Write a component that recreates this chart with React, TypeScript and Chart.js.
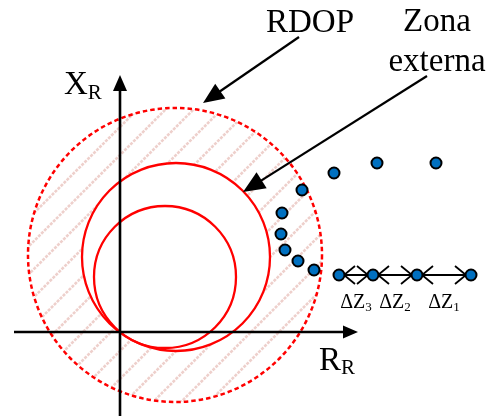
import React, { useEffect, useRef } from "react";
import { Chart, registerables } from "chart.js";

Chart.register(...registerables);

// Impedance trajectory (R, X) in diagram units, origin at axes crossing
const trajectoryR = [316, 257, 214, 182, 162, 161, 165, 178, 194];
const trajectoryX = [169, 169, 159, 142, 119, 98, 82, 71, 62];

// Steps on the constant-X line
const stepR = [219, 253, 297, 351];
const stepX = [57, 57, 57, 57];
const stepLabelSubs = ["3", "2", "1"];

// Circles: RDOP (dashed), outer zone, inner zone (center R, center X, radius)
const rdopCircle = [55, 77, 147];
const outerZoneCircle = [56, 75, 94];
const innerZoneCircle = [45, 55, 71];

// Axes extents
const rAxisRange = [-106, 238];
const xAxisRange = [-84, 257];

// Annotation arrows [fromR, fromX, toR, toX]
const rdopArrow = [179, 295, 83, 229];
const zoneArrow = [307, 256, 123, 140];

// Texts
const rdopText = "RDOP";
const zoneText = ["Zona", "externa"];
const xAxisText = ["X", "R"];
const rAxisText = ["R", "R"];
const deltaText = "ΔZ";

const RED = "#FF0000";
const SERIF = '"Liberation Serif", "Times New Roman", serif';

const diagramPlugin = {
  id: "diagram",
  beforeDatasetsDraw(chart: any) {
    const { ctx, scales } = chart;
    const xs = scales.x;
    const ys = scales.y;
    const px = (v: number) => xs.getPixelForValue(v);
    const py = (v: number) => ys.getPixelForValue(v);
    const pr = (r: number) => Math.abs(xs.getPixelForValue(r) - xs.getPixelForValue(0));

    ctx.save();
    // Hatched annulus between RDOP and outer zone circle
    ctx.beginPath();
    ctx.arc(px(rdopCircle[0]), py(rdopCircle[1]), pr(rdopCircle[2]), 0, Math.PI * 2);
    ctx.moveTo(px(outerZoneCircle[0]) + pr(outerZoneCircle[2]), py(outerZoneCircle[1]));
    ctx.arc(px(outerZoneCircle[0]), py(outerZoneCircle[1]), pr(outerZoneCircle[2]), 0, Math.PI * 2);
    ctx.clip("evenodd");
    ctx.strokeStyle = "rgb(238,208,204)";
    ctx.lineWidth = 2.6;
    ctx.setLineDash([3, 1.2]);
    const W = chart.width;
    const H = chart.height;
    for (let c = 23 - 28 * 2; c < W + H + 56; c += 28) {
      ctx.beginPath();
      ctx.moveTo(c, 0);
      ctx.lineTo(c - H, H);
      ctx.stroke();
    }
    ctx.restore();

    // Circles
    ctx.save();
    ctx.strokeStyle = RED;
    ctx.lineWidth = 2.5;
    ctx.setLineDash([4.5, 3]);
    ctx.beginPath();
    ctx.arc(px(rdopCircle[0]), py(rdopCircle[1]), pr(rdopCircle[2]), 0, Math.PI * 2);
    ctx.stroke();
    ctx.setLineDash([]);
    ctx.lineWidth = 2.3;
    for (const c of [outerZoneCircle, innerZoneCircle]) {
      ctx.beginPath();
      ctx.arc(px(c[0]), py(c[1]), pr(c[2]), 0, Math.PI * 2);
      ctx.stroke();
    }
    ctx.restore();

    // Axes with arrows
    const filledArrow = (x1: number, y1: number, x2: number, y2: number, len: number, hw: number, lw: number) => {
      const a = Math.atan2(y2 - y1, x2 - x1);
      const bx = x2 - len * Math.cos(a);
      const by = y2 - len * Math.sin(a);
      ctx.beginPath();
      ctx.moveTo(x1, y1);
      ctx.lineTo(bx + Math.cos(a) * 2, by + Math.sin(a) * 2);
      ctx.lineWidth = lw;
      ctx.strokeStyle = "#000";
      ctx.stroke();
      ctx.beginPath();
      ctx.moveTo(x2, y2);
      ctx.lineTo(bx + hw * Math.sin(a), by - hw * Math.cos(a));
      ctx.lineTo(bx - hw * Math.sin(a), by + hw * Math.cos(a));
      ctx.closePath();
      ctx.fillStyle = "#000";
      ctx.fill();
    };
    ctx.save();
    filledArrow(px(rAxisRange[0]), py(0), px(rAxisRange[1]), py(0), 15, 6.5, 2.6);
    filledArrow(px(0), py(xAxisRange[0]), px(0), py(xAxisRange[1]), 16, 7, 2.6);
    filledArrow(px(rdopArrow[0]), py(rdopArrow[1]), px(rdopArrow[2]), py(rdopArrow[3]), 21, 9, 2.2);
    filledArrow(px(zoneArrow[0]), py(zoneArrow[1]), px(zoneArrow[2]), py(zoneArrow[3]), 22, 9.5, 2.2);
    ctx.restore();

    // Step chevrons (double-headed open arrows between step points)
    ctx.save();
    ctx.strokeStyle = "#000";
    ctx.lineWidth = 1.8;
    const chev = (tx: number, ty: number, dir: number) => {
      const len = 11;
      const hw = 9;
      ctx.beginPath();
      ctx.moveTo(tx - dir * len, ty - hw);
      ctx.lineTo(tx, ty);
      ctx.lineTo(tx - dir * len, ty + hw);
      ctx.stroke();
    };
    for (let i = 0; i < stepR.length - 1; i++) {
      const ax = px(stepR[i]);
      const ay = py(stepX[i]);
      const bx = px(stepR[i + 1]);
      const by = py(stepX[i + 1]);
      chev(ax + 5, ay, -1);
      chev(bx - 5, by, 1);
    }
    ctx.restore();
  },
  afterDatasetsDraw(chart: any) {
    const { ctx, scales } = chart;
    const px = (v: number) => scales.x.getPixelForValue(v);
    const py = (v: number) => scales.y.getPixelForValue(v);
    ctx.save();
    ctx.fillStyle = "#000";
    ctx.textBaseline = "alphabetic";
    ctx.textAlign = "center";
    ctx.font = `33px ${SERIF}`;
    ctx.fillText(rdopText, px(190), py(300));
    ctx.fillText(zoneText[0], px(317), py(301));
    ctx.fillText(zoneText[1], px(317), py(261));

    const sub = (main: string, s: string, x: number, y: number, f1: number, f2: number, dy: number) => {
      ctx.textAlign = "left";
      ctx.font = `${f1}px ${SERIF}`;
      ctx.fillText(main, x, y);
      const w = ctx.measureText(main).width;
      ctx.font = `${f2}px ${SERIF}`;
      ctx.fillText(s, x + w, y + dy);
    };
    sub(xAxisText[0], xAxisText[1], px(-56), py(238), 33, 21, 5);
    sub(rAxisText[0], rAxisText[1], px(199), py(-38), 33, 21, 4);

    // delta labels centered under each step interval
    const centers: number[] = [];
    for (let i = 0; i < stepR.length - 1; i++) {
      centers.push((px(stepR[i]) + px(stepR[i + 1])) / 2);
    }
    for (let i = 0; i < stepLabelSubs.length; i++) {
      ctx.font = `20px ${SERIF}`;
      const w1 = ctx.measureText(deltaText).width;
      ctx.font = `13px ${SERIF}`;
      const w2 = ctx.measureText(stepLabelSubs[i]).width;
      const left = centers[i] - (w1 + w2) / 2;
      sub(deltaText, stepLabelSubs[i], left, py(stepX[i]) + 33, 20, 13, 3);
    }
    ctx.restore();
  },
};

export default function App() {
  const ref = useRef<HTMLCanvasElement | null>(null);
  useEffect(() => {
    if (!ref.current) return;
    const chart = new Chart(ref.current, {
      type: "scatter",
      data: {
        datasets: [
          {
            label: "steps",
            data: stepR.map((r, i) => ({ x: r, y: stepX[i] })),
            showLine: true,
            borderColor: "#000",
            borderWidth: 1.8,
            pointRadius: 5.5,
            pointBorderWidth: 2,
            pointBorderColor: "#000",
            pointBackgroundColor: "#0070C0",
          },
          {
            label: "trajectory",
            data: trajectoryR.map((r, i) => ({ x: r, y: trajectoryX[i] })),
            showLine: false,
            pointRadius: 5.5,
            pointBorderWidth: 2,
            pointBorderColor: "#000",
            pointBackgroundColor: "#0070C0",
          },
        ],
      },
      options: {
        animation: false,
        responsive: false,
        events: [],
        layout: { padding: 0, autoPadding: false },
        plugins: { legend: { display: false }, tooltip: { enabled: false } },
        scales: {
          x: { type: "linear", min: -120, max: 368, display: false },
          y: { type: "linear", min: -84, max: 332, display: false },
        },
      },
      plugins: [diagramPlugin],
    });
    return () => chart.destroy();
  }, []);
  return (
    <div style={{ position: "fixed", left: 0, top: 0, width: 488, height: 416, background: "#fff" }}>
      <canvas ref={ref} width={488} height={416} />
    </div>
  );
}
